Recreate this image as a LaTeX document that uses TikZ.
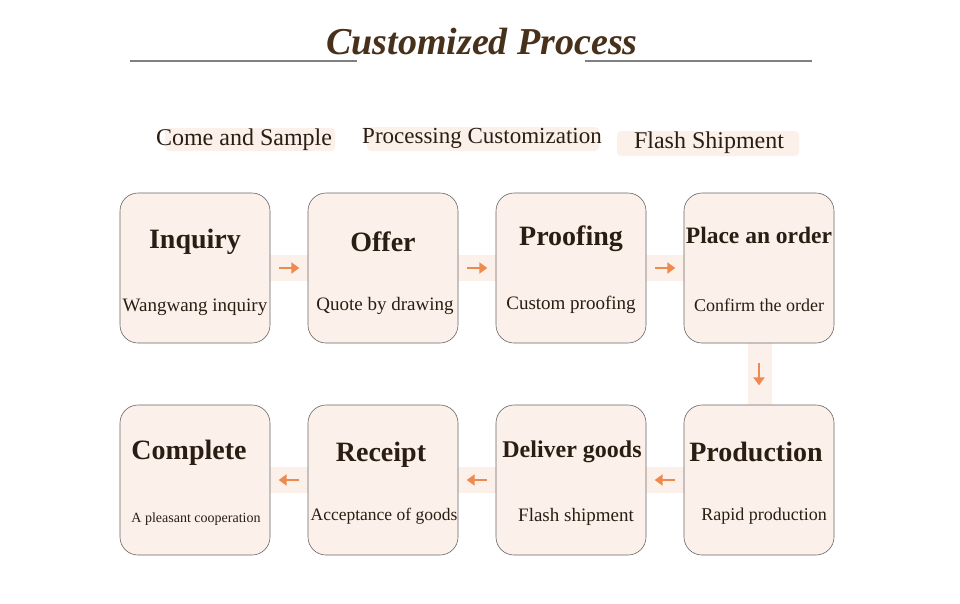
\documentclass[tikz,border=0pt]{standalone}
\usepackage{fontspec}
\usetikzlibrary{arrows.meta}
\setmainfont{Liberation Serif}
\begin{document}
\begin{tikzpicture}[x=1pt,y=-1pt,
 box/.style={draw=black!60,fill=boxc,rounded corners=18pt,minimum width=150pt,minimum height=150pt,inner sep=0pt,line width=0.6pt},
 ttl/.style={font=\fontsize{28}{30}\selectfont\bfseries,text=txt},
 sub/.style={font=\fontsize{19}{21}\selectfont,text=txt},
 lab/.style={font=\fontsize{24}{26}\selectfont,text=txt},
 arr/.style={draw=arrc,line width=2.4pt,-{Triangle[length=8pt,width=11pt]}}]
\definecolor{boxc}{HTML}{FCF0EA}
\definecolor{txt}{HTML}{2A1D12}
\definecolor{arrc}{HTML}{EE8A4E}
\useasboundingbox (0,0) rectangle (960,603);
\fill[white] (0,0) rectangle (960,603);
\node[font=\fontsize{38}{40}\selectfont\bfseries\itshape,text=txt!80!brown] (title) at (482,42) {Customized Process};
\draw[gray,line width=1.2pt] (130,61) -- (357,61);
\draw[gray,line width=1.2pt] (585,61) -- (812,61);
\fill[boxc,rounded corners=4pt] (165,128) rectangle (335,151);
\fill[boxc,rounded corners=4pt] (367,127) rectangle (599,151);
\fill[boxc,rounded corners=4pt] (617,131) rectangle (799,156);
\node[lab] (l1) at (244,140) {Come and Sample};
\node[lab,font=\fontsize{23}{25}\selectfont] (l2) at (482,138) {Processing Customization};
\node[lab] (l3) at (709,143) {Flash Shipment};
% connectors backgrounds
\foreach \x in {270,458,646} {\fill[boxc] (\x,255) rectangle (\x+38,281);}
\foreach \x in {270,458,646} {\fill[boxc] (\x,467) rectangle (\x+38,493);}
\fill[boxc] (748,343) rectangle (772,405);
% boxes
\node[box] (b1) at (195,268) {};
\node[box] (b2) at (383,268) {};
\node[box] (b3) at (571,268) {};
\node[box] (b4) at (759,268) {};
\node[box] (b5) at (195,480) {};
\node[box] (b6) at (383,480) {};
\node[box] (b7) at (571,480) {};
\node[box] (b8) at (759,480) {};
\node[ttl] at (195,242) {Inquiry};
\node[sub] at (195,307) {Wangwang inquiry};
\node[ttl] at (383,242) {Offer};
\node[sub] at (385,306) {Quote by drawing};
\node[ttl] at (571,239) {Proofing};
\node[sub] at (571,305) {Custom proofing};
\node[ttl,font=\fontsize{23.5}{25}\selectfont\bfseries] at (759,235) {Place an order};
\node[sub,font=\fontsize{18}{20}\selectfont] at (759,305) {Confirm the order};
\node[ttl] at (189,453) {Complete};
\node[sub,font=\fontsize{14}{16}\selectfont] at (196,519) {A pleasant cooperation};
\node[ttl] at (381,455) {Receipt};
\node[sub,font=\fontsize{17.5}{19}\selectfont] at (384,516) {Acceptance of goods};
\node[ttl,font=\fontsize{24}{26}\selectfont\bfseries] at (572,452) {Deliver goods};
\node[sub] at (576,517) {Flash shipment};
\node[ttl] at (756,452) {Production};
\node[sub,font=\fontsize{18}{20}\selectfont] at (764,516) {Rapid production};
% arrows
\draw[arr] (b1.east)++(9,0) -- ++(20,0);
\draw[arr] (b2.east)++(9,0) -- ++(20,0);
\draw[arr] (b3.east)++(9,0) -- ++(20,0);
\draw[arr] (b4.south)++(0,20) -- ++(0,22);
\draw[arr] (b8.west)++(-9,0) -- ++(-20,0);
\draw[arr] (b7.west)++(-9,0) -- ++(-20,0);
\draw[arr] (b6.west)++(-9,0) -- ++(-20,0);
\end{tikzpicture}
\end{document}
